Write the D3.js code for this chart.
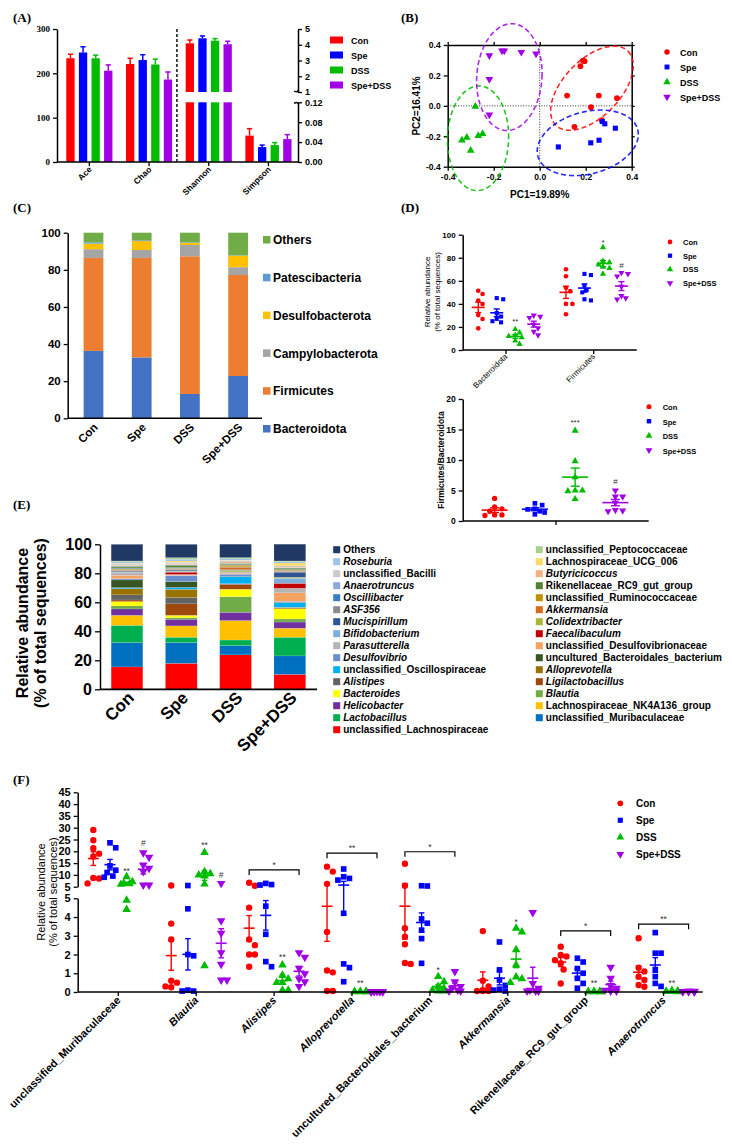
<!DOCTYPE html>
<html>
<head>
<meta charset="utf-8">
<script src="https://cdn.jsdelivr.net/npm/d3@7"></script>
<style>
  body { margin: 0; background: #fff; }
  svg { display: block; }
</style>
</head>
<body>
<svg></svg>
<script>
// ---------- data ----------
const groups = ['Con', 'Spe', 'DSS', 'Spe+DSS'];

// (A) alpha diversity, mean and upper error
const alphaIndices = ['Ace', 'Chao', 'Shannon', 'Simpson'];
const aceMean = [234, 247, 234, 206];
const aceErr = [9, 13, 7, 13];
const chaoMean = [221, 230, 220, 186];
const chaoErr = [13, 12, 12, 17];
const shannonMean = [4.09, 4.41, 4.26, 4.03];
const shannonErr = [0.21, 0.15, 0.13, 0.19];
const simpsonMean = [0.053, 0.030, 0.034, 0.046];
const simpsonErr = [0.014, 0.004, 0.005, 0.009];

// (B) PCoA points [PC1, PC2]
const pcCon = [[0.188, 0.298], [0.195, 0.294], [0.177, 0.261], [0.119, 0.068], [0.257, 0.068], [0.336, 0.050], [0.223, -0.009], [0.151, -0.138], [0.270, -0.094]];
const pcSpe = [[0.081, -0.270], [0.222, -0.243], [0.258, -0.226], [0.272, -0.103], [0.283, -0.118], [0.329, -0.147]];
const pcDSS = [[-0.280, -0.004], [-0.338, -0.226], [-0.317, -0.208], [-0.267, -0.197], [-0.248, -0.184], [-0.300, -0.294]];
const pcSD = [[-0.219, 0.331], [-0.164, 0.362], [-0.154, 0.362], [-0.080, 0.353], [-0.016, 0.342], [-0.219, 0.175], [-0.219, -0.059]];
// confidence ellipses: centre and two half-axis vectors, in PC units
const ellCenter = [[0.227, 0.116], [0.209, -0.243], [-0.268, -0.213], [-0.132, 0.189]];
const ellAxisA = [[0.157, 0.243], [0.217, 0.0875], [0.133, 0], [0.142, 0]];
const ellAxisB = [[0.087, -0.132], [0.035, -0.197], [0.004, 0.344], [0.01, 0.351]];

// (C) phylum composition (%)
const phyla = ['Bacteroidota', 'Firmicutes', 'Campylobacterota', 'Desulfobacterota', 'Patescibacteria', 'Others'];
const phylaCon = [36.3, 50.1, 4.7, 3.0, 0.7, 5.2];
const phylaSpe = [32.8, 53.6, 4.3, 4.8, 0.4, 4.1];
const phylaDSS = [13.1, 74.2, 6.1, 1.2, 0.3, 5.1];
const phylaSD = [22.8, 54.4, 4.2, 6.2, 0.2, 12.2];

// (D) per-mouse values
const dPhyla = ['Bacteroidota', 'Firmicutes'];
const dBactCon = [51.4, 48.6, 42.8, 39.9, 30.3, 26.9, 18.8];
const dBactSpe = [45, 44, 32, 29, 27, 25, 24];
const dBactDSS = [18, 15, 13, 12, 11, 8, 5];
const dBactSD = [30, 29, 28, 22, 19, 16, 13];
const dFirmCon = [70, 64, 54, 51, 40, 40, 31];
const dFirmSpe = [66, 65, 56, 52, 50, 44, 43];
const dFirmDSS = [89, 77, 76, 74, 72, 71, 66];
const dFirmSD = [67, 66, 64, 55, 47, 45, 44];
const dRatioCon = [3.7, 2.3, 2.0, 1.6, 1.0, 1.0, 0.9];
const dRatioSpe = [2.9, 2.6, 2.0, 1.9, 1.6, 1.4, 1.1];
const dRatioDSS = [14.8, 9.8, 7.2, 5.0, 5.0, 4.9, 3.6];
const dRatioSD = [5.0, 4.0, 4.0, 3.0, 1.8, 1.7, 1.6];

// (E) genus composition (%), stack order bottom -> top
const genera = ['unclassified_Lachnospiraceae', 'unclassified_Muribaculaceae', 'Lactobacillus', 'Lachnospiraceae_NK4A136_group',
  'Helicobacter', 'Blautia', 'Bacteroides', 'Ligilactobacillus', 'Alistipes', 'Alloprevotella', 'unclassified_Oscillospiraceae',
  'uncultured_Bacteroidales_bacterium', 'Desulfovibrio', 'unclassified_Desulfovibrionaceae', 'Parasutterella', 'Faecalibaculum',
  'Bifidobacterium', 'Colidextribacter', 'Mucispirillum', 'Akkermansia', 'ASF356', 'unclassified_Ruminococcaceae', 'Oscillibacter',
  'Rikenellaceae_RC9_gut_group', 'Anaerotruncus', 'Butyricicoccus', 'unclassified_Bacilli', 'Lachnospiraceae_UCG_006', 'Roseburia',
  'unclassified_Peptococcaceae', 'Others'];
const genusCon = [15.4, 16.8, 11.9, 6.9, 4.4, 2.1, 3.0, 1.1, 3.5, 4.3, 0.7, 5.3, 0.9, 2.1, 0.9, 0.5, 0.9, 0.4, 0.5, 0.5, 0.4, 0.7, 0.5, 1.1, 0.5, 0.4, 0.7, 0.5, 1.1, 0.5, 11.5];
const genusSpe = [17.9, 14.3, 3.7, 7.8, 4.6, 1.1, 1.6, 7.9, 4.3, 5.8, 1.3, 4.0, 3.9, 0.5, 0.5, 1.6, 0.5, 0.4, 0.6, 0.4, 0.3, 0.5, 0.5, 1.6, 0.4, 0.7, 1.0, 0.8, 1.3, 1.0, 9.2];
const genusDSS = [23.7, 6.4, 3.9, 13.4, 5.7, 10.8, 5.1, 3.4, 0.3, 0.1, 4.8, 0.2, 1.6, 0.7, 0.3, 0.2, 0.4, 1.1, 0.5, 1.6, 0.3, 1.1, 0.4, 0.8, 0.2, 0.8, 0.8, 0.4, 1.0, 0.8, 9.3];
const genusSD = [10.3, 12.7, 12.9, 6.2, 4.3, 2.1, 7.1, 0.5, 0.3, 0.2, 3.2, 0.3, 0.5, 5.9, 3.2, 3.4, 3.5, 0.7, 3.5, 0.5, 0.3, 0.6, 0.4, 1.0, 0.2, 0.5, 0.8, 2.0, 0.9, 0.5, 11.6];

// (F) per-mouse genus abundance (%)
const fTaxa = ['unclassified_Muribaculaceae', 'Blautia', 'Alistipes', 'Alloprevotella', 'uncultured_Bacteroidales_bacterium', 'Akkermansia', 'Rikenellaceae_RC9_gut_group', 'Anaerotruncus'];
const fCon = [[29, 24.7, 21.3, 19, 17.8, 8.7, 8.5, 6.4], [5.5, 3.65, 2.8, 0.6, 0.5, 0.3, 0.25], [6.7, 5.4, 4.5, 2.8, 2.5, 2.0, 2.0, 1.35],
  [13.5, 11.4, 6.2, 3.2, 1.15, 1.05, 0.05, 0.05], [14.7, 5.4, 3.4, 2.95, 2.55, 1.55, 1.5], [3.25, 0.6, 0.3, 0.1, 0.05, 0.05, 0.05],
  [2.42, 1.98, 1.9, 1.7, 1.54, 1.2, 0.45], [2.87, 1.3, 1.1, 0.82, 0.64, 0.37, 0.28]];
const fSpe = [[23.6, 21.5, 13.8, 12, 11, 9.5, 9], [5.5, 4.44, 2.0, 1.93, 0.1, 0.05, 0.05], [6.4, 5.9, 5.7, 4.58, 3.08, 1.62, 1.35],
  [12.5, 9.2, 8.5, 7.8, 4.2, 1.5, 1.3, 0.55], [5.4, 5.3, 3.9, 3.67, 3.3, 2.85, 1.53], [2.67, 1.18, 0.64, 0.35, 0.15, 0.1, 0.05],
  [1.8, 1.6, 1.25, 1.0, 0.73, 0.46, 0.2], [3.17, 2.07, 2.07, 1.2, 0.82, 0.46, 0.3]];
const fDSS = [[9.2, 7.1, 6.5, 6.2, 6.0, 4.9, 4.4], [19.5, 11.4, 10.5, 10, 9.5, 6.1, 1.4], [1.44, 0.9, 0.7, 0.5, 0.5, 0.1, 0.1],
  [0.03, 0.02, 0.02, 0.01, 0.01, 0.01, 0.01], [0.82, 0.55, 0.3, 0.2, 0.1, 0.05, 0.05], [3.4, 3.2, 2.25, 1.44, 0.8, 0.7, 0.5],
  [0.03, 0.02, 0.02, 0.01, 0.01, 0.01, 0.01], [0.08, 0.05, 0.04, 0.03, 0.02, 0.02, 0.01]];
const fSD = [[19.4, 17.5, 14.2, 12.8, 11.4, 5.7, 5.7], [6.4, 3.8, 3.14, 2.1, 1.48, 0.64, 0.64], [2.1, 1.85, 1.27, 0.98, 0.7, 0.55, 0.3],
  [0.02, 0.02, 0.01, 0.01, 0.01, 0.01, 0.01], [1.09, 0.55, 0.3, 0.2, 0.1, 0.05, 0.05], [4.24, 0.46, 0.2, 0.1, 0.05, 0.05, 0.05],
  [1.32, 0.73, 0.35, 0.2, 0.1, 0.05, 0.05], [0.06, 0.04, 0.03, 0.02, 0.02, 0.01, 0.01]];
// significance marks: [taxon index, group index, text, value]
const fMarks = [[0, 2, '**', 11.8], [0, 3, '#', 23.6], [1, 2, '**', 22.5], [1, 3, '#', 9.9], [2, 2, '**', 1.85], [3, 2, '**', 0.46],
  [4, 2, '*', 1.15], [5, 2, '*', 3.76], [6, 2, '**', 0.46], [7, 2, '**', 0.46]];
// brackets Con vs Spe+DSS: [taxon index, text, value]
const fBrackets = [[2, '*', 12.1], [3, '**', 19.2], [4, '*', 19.8], [6, '*', 3.26], [7, '**', 3.62]];

// ---------- styles ----------
const SANS = "'Liberation Sans', Arial, sans-serif";
const SERIF = "'Liberation Serif', 'Times New Roman', serif";
const groupColors = ['#ff0000', '#0000ff', '#00bb00', '#a100e6'];
const groupSymbols = [d3.symbolCircle, d3.symbolSquare, d3.symbolTriangle, d3.symbolTriangle];
const phylaColors = ['#4472c4', '#ed7d31', '#a5a5a5', '#ffc000', '#5b9bd5', '#70ad47'];
const genusColors = ['#ff0000', '#0070c0', '#00b050', '#ffc000', '#7030a0', '#70ad47', '#ffff00', '#9e480e', '#636363', '#997300',
  '#00b0f0', '#375623', '#698ed0', '#f4a460', '#b4b4b4', '#c00000', '#7cafdd', '#a9b837', '#2f5597', '#d86a1a', '#8c8c8c',
  '#bf9000', '#3a7fc4', '#548235', '#8ea9db', '#f4b183', '#cacaca', '#ffd966', '#9dc3e6', '#a9d18e', '#203864'];

const svg = d3.select('svg').attr('width', 732).attr('height', 1144);
svg.append('rect').attr('width', 732).attr('height', 1144).attr('fill', '#fff');

// ---------- helpers ----------
function styleAxis(g, size, family, weight) {
  g.attr('font-size', size).attr('font-family', family).attr('font-weight', weight);
  g.select('.domain').attr('stroke', '#000').attr('stroke-width', 1.5);
  g.selectAll('.tick line').attr('stroke', '#000').attr('stroke-width', 1.3);
  g.selectAll('.tick text').attr('fill', '#000');
  return g;
}
function marker(parent, gi, x, y, size) {
  return parent.append('path')
    .attr('d', d3.symbol(groupSymbols[gi], size)())
    .attr('transform', `translate(${x},${y})` + (gi === 3 ? ' rotate(180)' : ''))
    .attr('fill', groupColors[gi]);
}
function txt(parent, s, x, y, size, opts = {}) {
  return parent.append('text').attr('x', x).attr('y', y).text(s)
    .attr('font-family', opts.family || SANS).attr('font-size', size)
    .attr('font-weight', opts.weight || 'bold')
    .attr('font-style', opts.italic ? 'italic' : null)
    .attr('text-anchor', opts.anchor || 'start')
    .attr('fill', opts.fill || '#000');
}
function rotLabel(parent, s, x, y, size, opts = {}) {
  return txt(parent, s, 0, 0, size, Object.assign({anchor: 'end'}, opts))
    .attr('transform', `translate(${x},${y}) rotate(-45)`);
}
function line(parent, x1, y1, x2, y2, color, w) {
  return parent.append('line').attr('x1', x1).attr('y1', y1).attr('x2', x2).attr('y2', y2)
    .attr('stroke', color || '#000').attr('stroke-width', w || 1.5);
}
// small beeswarm so dots of one group do not pile up
function swarm(vals, yFn, r, maxDx) {
  const order = vals.map((v, i) => i).sort((a, b) => vals[b] - vals[a]);
  const placed = [], pos = [];
  order.forEach(i => {
    const y = yFn(vals[i]);
    let best = 0, bestScore = Infinity;
    for (let k = 0; k <= 14; k++) {
      const dx = k === 0 ? 0 : (k % 2 ? 1 : -1) * Math.ceil(k / 2) * r * 0.9;
      if (Math.abs(dx) > maxDx) break;
      const ov = placed.reduce((s, p) => s + Math.max(0, 2 * r - Math.hypot(p.x - dx, p.y - y)), 0);
      if (ov < bestScore - 1e-6) { bestScore = ov; best = dx; }
      if (ov === 0) break;
    }
    placed.push({x: best, y});
    pos[i] = best;
  });
  return pos;
}
function dotGroup(parent, vals, gi, cx, yFn, o) {
  const offs = swarm(vals, yFn, o.r, o.maxDx);
  vals.forEach((v, i) => marker(parent, gi, cx + offs[i], yFn(v), o.size));
  const m = d3.mean(vals), se = d3.deviation(vals) / Math.sqrt(vals.length);
  const c = groupColors[gi];
  line(parent, cx - o.half, yFn(m), cx + o.half, yFn(m), c, 1.6);
  line(parent, cx, yFn(m - se), cx, yFn(m + se), c, 1.4);
  line(parent, cx - o.cap, yFn(m + se), cx + o.cap, yFn(m + se), c, 1.4);
  line(parent, cx - o.cap, yFn(m - se), cx + o.cap, yFn(m - se), c, 1.4);
}

// panel letters
[['(A)', 13, 22], ['(B)', 401, 22], ['(C)', 13, 212], ['(D)', 401, 212], ['(E)', 13, 509], ['(F)', 13, 784]]
  .forEach(([s, x, y]) => txt(svg, s, x, y, 13, {family: SERIF}));

// ---------- (A) ----------
const gA = svg.append('g');
const aX = d3.scaleBand().domain(alphaIndices).range([59.5, 298.3]);
const aG = d3.scaleBand().domain(groups).range([-25.2, 25.2]);
const aYL = d3.scaleLinear().domain([0, 300]).range([162, 29]);
const aYU = d3.scaleLinear().domain([1, 5]).range([92, 29]);
const aYB = d3.scaleLinear().domain([0, 0.12]).range([162, 102.3]);
const aMeans = [aceMean, chaoMean, shannonMean, simpsonMean];
const aErrs = [aceErr, chaoErr, shannonErr, simpsonErr];
const aBarW = aG.bandwidth() * 0.66;
alphaIndices.forEach((idx, ii) => {
  groups.forEach((g, gi) => {
    const cx = aX(idx) + aX.bandwidth() / 2 + aG(g) + aG.bandwidth() / 2;
    const m = aMeans[ii][gi], e = aErrs[ii][gi];
    let segs, yT, yE;
    if (ii < 2) { segs = [[aYL(0), aYL(m)]]; yT = aYL(m); yE = aYL(m + e); }
    else if (ii === 2) { segs = [[aYB(0), aYB(0.12)], [aYU(1), aYU(m)]]; yT = aYU(m); yE = aYU(m + e); }
    else { segs = [[aYB(0), aYB(m)]]; yT = aYB(m); yE = aYB(m + e); }
    line(gA, cx, yT, cx, yE, groupColors[gi], 1.5);
    line(gA, cx - 2.6, yE, cx + 2.6, yE, groupColors[gi], 1.5);
    segs.forEach(([y0, y1]) => gA.append('rect').attr('x', cx - aBarW / 2).attr('y', y1)
      .attr('width', aBarW).attr('height', y0 - y1).attr('fill', groupColors[gi]));
  });
});
styleAxis(gA.append('g').attr('transform', 'translate(57,0)')
  .call(d3.axisLeft(aYL).tickValues([0, 100, 200, 300]).tickSize(4).tickSizeOuter(0)), 9, SERIF, 'bold');
styleAxis(gA.append('g').attr('transform', 'translate(298,0)')
  .call(d3.axisRight(aYU).tickValues([1, 2, 3, 4, 5]).tickFormat(d3.format('d')).tickSize(4).tickSizeOuter(0)), 9, SANS, 'bold');
styleAxis(gA.append('g').attr('transform', 'translate(298,0)')
  .call(d3.axisRight(aYB).tickValues([0, 0.04, 0.08, 0.12]).tickFormat(d3.format('.2f')).tickSize(4).tickSizeOuter(0)), 9, SANS, 'bold');
// axis break hooks
gA.append('path').attr('d', `M294,${aYU(1) - 1} q4,2 4,-1 M294,${aYB(0.12) + 1} q4,-2 4,1`).attr('fill', 'none').attr('stroke', '#000').attr('stroke-width', 1.3);
line(gA, 57, 162, 298, 162);
line(gA, aX('Shannon') - 2, 29, aX('Shannon') - 2, 162, '#222', 1.6).attr('stroke-dasharray', '3,2');
alphaIndices.forEach(idx => {
  const cx = aX(idx) + aX.bandwidth() / 2;
  line(gA, cx, 162, cx, 166, '#000', 1.3);
  rotLabel(gA, idx, cx + 3, 170, 8.5);
});
groups.forEach((g, gi) => {
  gA.append('rect').attr('x', 330).attr('y', 36.5 + 15 * gi).attr('width', 13).attr('height', 7).attr('fill', groupColors[gi]);
  txt(gA, g, 351, 43.5 + 15 * gi, 9);
});

// ---------- (B) ----------
const gB = svg.append('g');
const bX = d3.scaleLinear().domain([-0.4, 0.4]).range([447.7, 631.7]);
const bY = d3.scaleLinear().domain([-0.4, 0.4]).range([166.7, 45]);
const bTicks = [-0.4, -0.2, 0, 0.2, 0.4];
styleAxis(gB.append('g').attr('transform', 'translate(0,45)').call(d3.axisTop(bX).tickValues(bTicks).tickFormat('').tickSize(3).tickSizeOuter(0)), 9, SANS, 'bold');
styleAxis(gB.append('g').attr('transform', 'translate(631.7,0)').call(d3.axisRight(bY).tickValues(bTicks).tickFormat('').tickSize(3).tickSizeOuter(0)), 9, SANS, 'bold');
styleAxis(gB.append('g').attr('transform', 'translate(0,166.7)').call(d3.axisBottom(bX).tickValues(bTicks).tickFormat(d => d.toFixed(1)).tickSize(4).tickSizeOuter(0)), 8.5, SANS, 'bold');
styleAxis(gB.append('g').attr('transform', 'translate(447.7,0)').call(d3.axisLeft(bY).tickValues(bTicks).tickFormat(d => d.toFixed(1)).tickSize(4).tickSizeOuter(0)), 8.5, SANS, 'bold');
line(gB, bX(0), bY(-0.4), bX(0), bY(0.4), '#333', 1).attr('stroke-dasharray', '1,1.6');
line(gB, bX(-0.4), bY(0), bX(0.4), bY(0), '#333', 1).attr('stroke-dasharray', '1,1.6');
const ellLine = d3.line().x(p => bX(p[0])).y(p => bY(p[1])).curve(d3.curveLinearClosed);
const tSteps = d3.range(0, 2 * Math.PI, Math.PI / 60);
[pcCon, pcSpe, pcDSS, pcSD].forEach((pts, gi) => {
  pts.forEach(p => marker(gB, gi, bX(p[0]), bY(p[1]), 26));
});
ellCenter.forEach((c, gi) => {
  const a = ellAxisA[gi], b = ellAxisB[gi];
  const pts = tSteps.map(t => [c[0] + a[0] * Math.cos(t) + b[0] * Math.sin(t), c[1] + a[1] * Math.cos(t) + b[1] * Math.sin(t)]);
  gB.append('path').attr('d', ellLine(pts)).attr('fill', 'none').attr('stroke', groupColors[gi])
    .attr('stroke-width', 1.6).attr('stroke-dasharray', '5,3').attr('opacity', 0.85);
});
txt(gB, 'PC1=19.89%', 539.7, 198, 10, {anchor: 'middle'});
txt(gB, 'PC2=16.41%', 0, 0, 10, {anchor: 'middle'}).attr('transform', 'translate(420,106) rotate(-90)');
groups.forEach((g, gi) => {
  marker(gB, gi, 667, 52 + 15 * gi, 24);
  txt(gB, g, 680, 55.5 + 15 * gi, 9);
});

// ---------- (C) ----------
const gC = svg.append('g');
const cX = d3.scaleBand().domain(groups).range([69.4, 262.2]);
const cY = d3.scaleLinear().domain([0, 100]).range([418.3, 232.7]);
const cRows = groups.map((g, gi) => {
  const vals = [phylaCon, phylaSpe, phylaDSS, phylaSD][gi];
  const row = {group: g};
  phyla.forEach((p, pi) => row[p] = vals[pi]);
  return row;
});
const cStack = d3.stack().keys(phyla)(cRows);
const cBarW = cX.step() * 0.41;
cStack.forEach((layer, li) => {
  gC.append('g').attr('fill', phylaColors[li]).selectAll('rect').data(layer).join('rect')
    .attr('x', d => cX(d.data.group) + cX.bandwidth() / 2 - cBarW / 2)
    .attr('y', d => cY(d[1])).attr('width', cBarW).attr('height', d => cY(d[0]) - cY(d[1]));
});
styleAxis(gC.append('g').attr('transform', 'translate(67.7,0)')
  .call(d3.axisLeft(cY).tickValues([0, 20, 40, 60, 80, 100]).tickSize(4).tickSizeOuter(0)), 11.5, SANS, 'bold');
line(gC, 67.7, 418.3, 262, 418.3);
groups.forEach(g => rotLabel(gC, g, cX(g) + cX.bandwidth() / 2 + 5, 428, 11.5));
phyla.slice().reverse().forEach((p, i) => {
  const y = 240 + i * 37.8;
  gC.append('rect').attr('x', 263).attr('y', y - 4).attr('width', 7.5).attr('height', 7.5).attr('fill', phylaColors[phyla.length - 1 - i]);
  txt(gC, p, 273, y + 4.2, 12);
});

// ---------- (D) top ----------
const gD = svg.append('g');
const dX = d3.scaleBand().domain(dPhyla).range([462.15, 637.55]);
const dG = d3.scaleBand().domain(groups).range([-37, 37]);
const dY = d3.scaleLinear().domain([0, 100]).range([350, 234.7]);
const dSets = [[dBactCon, dBactSpe, dBactDSS, dBactSD], [dFirmCon, dFirmSpe, dFirmDSS, dFirmSD]];
dPhyla.forEach((p, pi) => {
  const base = dX(p) + dX.bandwidth() / 2;
  groups.forEach((g, gi) => dotGroup(gD, dSets[pi][gi], gi, base + dG(g) + dG.bandwidth() / 2, dY,
    {size: 17, r: 2.4, maxDx: 7, half: 6.5, cap: 3}));
  line(gD, base, 350, base, 354, '#000', 1.3);
  rotLabel(gD, p, base + 2, 357, 8, {weight: 'normal'});
});
[[0, 2, '**', 25], [1, 2, '*', 94], [1, 3, '#', 74]].forEach(([pi, gi, s, v]) => {
  txt(gD, s, dX(dPhyla[pi]) + dX.bandwidth() / 2 + dG(groups[gi]) + dG.bandwidth() / 2, dY(v) + 3, 8, {anchor: 'middle', weight: 'normal', fill: '#333'});
});
styleAxis(gD.append('g').attr('transform', 'translate(462.7,0)')
  .call(d3.axisLeft(dY).tickValues([0, 20, 40, 60, 80, 100]).tickSize(4).tickSizeOuter(0)), 8, SANS, 'bold');
line(gD, 462.7, 350, 636.7, 350);
txt(gD, 'Relative abundance', 0, 0, 8, {anchor: 'middle', weight: 'normal'}).attr('transform', 'translate(430,292) rotate(-90)');
txt(gD, '(% of total sequences)', 0, 0, 8, {anchor: 'middle', weight: 'normal'}).attr('transform', 'translate(439.5,292) rotate(-90)');
groups.forEach((g, gi) => {
  marker(gD, gi, 670, 242 + 13.7 * gi, 18);
  txt(gD, g, 683, 245 + 13.7 * gi, 7.5);
});

// ---------- (D) bottom ----------
const rX = d3.scaleBand().domain(groups).range([474.5, 635.5]);
const rY = d3.scaleLinear().domain([0, 20]).range([521, 399]);
[dRatioCon, dRatioSpe, dRatioDSS, dRatioSD].forEach((vals, gi) =>
  dotGroup(gD, vals, gi, rX(groups[gi]) + rX.bandwidth() / 2, rY, {size: 22, r: 2.7, maxDx: 11, half: 13, cap: 4.5}));
txt(gD, '***', rX('DSS') + rX.bandwidth() / 2, rY(16) + 2, 8, {anchor: 'middle', weight: 'normal', fill: '#333'});
txt(gD, '#', rX('Spe+DSS') + rX.bandwidth() / 2, rY(6.5) + 3, 8, {anchor: 'middle', weight: 'normal', fill: '#333'});
styleAxis(gD.append('g').attr('transform', 'translate(462.7,0)')
  .call(d3.axisLeft(rY).tickValues([0, 5, 10, 15, 20]).tickSize(4).tickSizeOuter(0)), 8.5, SANS, 'bold');
line(gD, 462.7, 521, 648.7, 521);
line(gD, 556, 521, 556, 525, '#000', 1.3);
txt(gD, 'Firmicutes/Bacteroidota', 0, 0, 8.5, {anchor: 'middle'}).attr('transform', 'translate(444,460) rotate(-90)');
groups.forEach((g, gi) => {
  marker(gD, gi, 649, 406.7 + 14.5 * gi, 20);
  txt(gD, g, 662.7, 410 + 14.5 * gi, 7.5);
});

// ---------- (E) ----------
const gE = svg.append('g');
const eX = d3.scaleBand().domain(groups).range([99.85, 317]);
const eY = d3.scaleLinear().domain([0, 100]).range([689.3, 544.3]);
const eRows = groups.map((g, gi) => {
  const vals = [genusCon, genusSpe, genusDSS, genusSD][gi];
  const row = {group: g};
  genera.forEach((n, ni) => row[n] = vals[ni]);
  return row;
});
const eStack = d3.stack().keys(genera)(eRows);
const eBarW = eX.step() * 0.585;
eStack.forEach((layer, li) => {
  gE.append('g').attr('fill', genusColors[li]).selectAll('rect').data(layer).join('rect')
    .attr('x', d => eX(d.data.group) + eX.bandwidth() / 2 - eBarW / 2)
    .attr('y', d => eY(d[1])).attr('width', eBarW).attr('height', d => eY(d[0]) - eY(d[1]))
    .attr('stroke', '#fff').attr('stroke-width', 0.15);
});
styleAxis(gE.append('g').attr('transform', 'translate(100,0)')
  .call(d3.axisLeft(eY).tickValues([0, 20, 40, 60, 80, 100]).tickSize(5).tickSizeOuter(0)), 16, SANS, 'bold');
line(gE, 100, 689.3, 317, 689.3, '#000', 1.8);
groups.forEach(g => rotLabel(gE, g, eX(g) + eX.bandwidth() / 2 + 8, 699, 17));
txt(gE, 'Relative abundance', 0, 0, 16, {anchor: 'middle'}).attr('transform', 'translate(28,623) rotate(-90)');
txt(gE, '(% of total sequences)', 0, 0, 16, {anchor: 'middle'}).attr('transform', 'translate(46,623) rotate(-90)');
genera.slice().reverse().forEach((n, i) => {
  const col = i % 2, row = Math.floor(i / 2);
  const x = col ? 539.3 : 336.7, y = 549.7 + row * 12;
  gE.append('rect').attr('x', x - 3.5).attr('y', y - 3.5).attr('width', 7).attr('height', 7).attr('fill', genusColors[genera.length - 1 - i]);
  txt(gE, n, x + 6.5, y + 3.6, 10, {italic: !n.includes('_') && n !== 'Others'});
});

// ---------- (F) ----------
const gF = svg.append('g');
const fX = d3.scaleBand().domain(fTaxa).range([79.35, 702.55]);
const fG = d3.scaleBand().domain(groups).range([-33.3, 33.3]);
const fYU = d3.scaleLinear().domain([5, 45]).range([886.7, 792.3]);
const fYL = d3.scaleLinear().domain([0, 5]).range([992, 898.3]);
const fY = v => (v <= 5 ? fYL(v) : fYU(v));
const fSets = [fCon, fSpe, fDSS, fSD];
const fcx = (ti, gi) => fX(fTaxa[ti]) + fX.bandwidth() / 2 + fG(groups[gi]) + fG.bandwidth() / 2;
fTaxa.forEach((t, ti) => {
  groups.forEach((g, gi) => dotGroup(gF, fSets[gi][ti], gi, fcx(ti, gi), fY, {size: 32, r: 3.2, maxDx: 6, half: 5.5, cap: 2.8}));
  const base = fX(t) + fX.bandwidth() / 2;
  line(gF, base, 992, base, 996, '#000', 1.3);
  rotLabel(gF, t, base + 3, 1001, 11, {italic: !t.includes('_')});
});
fMarks.forEach(([ti, gi, s, v]) => txt(gF, s, fcx(ti, gi), fY(v) + 3, 8.5, {anchor: 'middle', weight: 'normal', fill: '#333'}));
fBrackets.forEach(([ti, s, v]) => {
  const x1 = fcx(ti, 0), x2 = fcx(ti, 3), y = fY(v);
  gF.append('path').attr('d', `M${x1},${y + 5}V${y}H${x2}V${y + 5}`).attr('fill', 'none').attr('stroke', '#000').attr('stroke-width', 1.2);
  txt(gF, s, (x1 + x2) / 2, y - 2, 8.5, {anchor: 'middle', weight: 'normal', fill: '#333'});
});
styleAxis(gF.append('g').attr('transform', 'translate(77.7,0)')
  .call(d3.axisLeft(fYU).tickValues(d3.range(5, 46, 5)).tickFormat(d3.format('d')).tickSize(4).tickSizeOuter(0)), 11, SANS, 'bold');
styleAxis(gF.append('g').attr('transform', 'translate(77.7,0)')
  .call(d3.axisLeft(fYL).tickValues([0, 1, 2, 3, 4, 5]).tickFormat(d3.format('d')).tickSize(4).tickSizeOuter(0)), 11, SANS, 'bold');
line(gF, 77.7, 992, 702.7, 992);
txt(gF, 'Relative abundance', 0, 0, 11, {anchor: 'middle', weight: 'normal'}).attr('transform', 'translate(45,892) rotate(-90)');
txt(gF, '(% of total sequences)', 0, 0, 11, {anchor: 'middle', weight: 'normal'}).attr('transform', 'translate(57,892) rotate(-90)');
groups.forEach((g, gi) => {
  marker(gF, gi, 620.3, 803.3 + 17 * gi, 26);
  txt(gF, g, 636, 807 + 17 * gi, 10);
});
</script>
</body>
</html>
